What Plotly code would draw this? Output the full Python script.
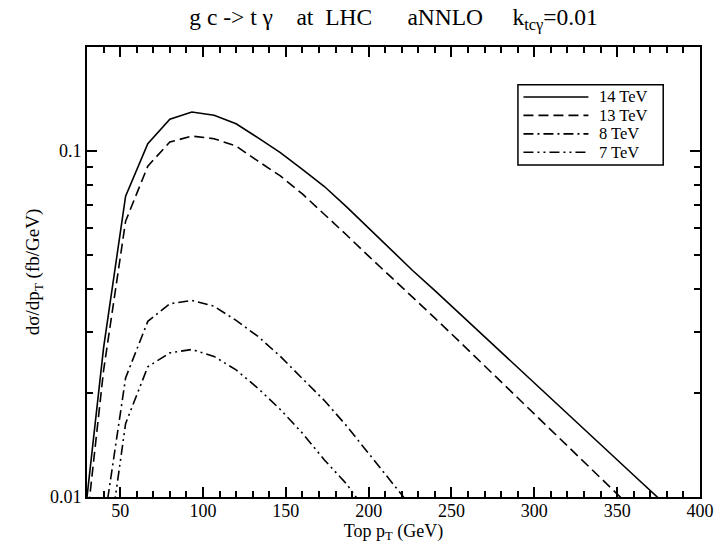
import plotly.graph_objects as go

# Top-quark transverse momentum grid (GeV)
pt = [30, 40, 53.3, 66.7, 80, 93.3, 106.7, 120, 133.3, 146.7, 160, 173.3,
      186.7, 200, 213.3, 226.7, 240, 253.3, 266.7, 280, 293.3, 306.7, 320,
      333.3, 346.7, 360, 373.3, 386.7]

# d(sigma)/dpT in fb/GeV for each collider energy
xs_14tev = [0.0100, 0.0270, 0.0741, 0.1050, 0.1236, 0.1297, 0.1269, 0.1200,
            0.1092, 0.0990, 0.0886, 0.0790, 0.0690, 0.0600, 0.0520, 0.0451,
            0.0395, 0.0345, 0.0301, 0.0262, 0.0229, 0.0200, 0.0174, 0.0152,
            0.01325, 0.01156, 0.01009, 0.0088]
xs_13tev = [0.0085, 0.0232, 0.0627, 0.0905, 0.1062, 0.1105, 0.1086, 0.1034,
            0.0935, 0.0848, 0.0752, 0.0658, 0.0572, 0.0497, 0.0434, 0.0379,
            0.0329, 0.0286, 0.0248, 0.0215, 0.0187, 0.0162, 0.01403, 0.01219,
            0.01057, 0.00917, 0.0080, 0.0069]
xs_8tev = [0.0030, 0.0082, 0.0221, 0.0322, 0.0362, 0.0370, 0.0356, 0.0324,
           0.0291, 0.0255, 0.0220, 0.0190, 0.01605, 0.01341, 0.0112, 0.0093,
           0.0077]
xs_7tev = [0.0020, 0.0057, 0.0163, 0.0238, 0.0261, 0.0267, 0.0255, 0.0233,
           0.0206, 0.0179, 0.0153, 0.0128, 0.0109, 0.0089]

labels = ["14 TeV", "13 TeV", "8 TeV", "7 TeV"]
curves = [xs_14tev, xs_13tev, xs_8tev, xs_7tev]
dashes = ["solid", "10px,5px", "10px,4px,2px,4px", "10px,4px,2px,4px,2px,4px"]

y_major = [0.01, 0.1]
y_major_text = ["0.01", "0.1"]

FONT = "Liberation Serif"
LINE_W = 1.6

fig = go.Figure()
for name, ys, dash in zip(labels, curves, dashes):
    fig.add_trace(go.Scatter(
        x=pt[:len(ys)], y=ys, mode="lines", name=name, showlegend=False,
        line=dict(color="black", width=LINE_W, dash=dash),
    ))

# Framed key in the upper right: box, line samples and labels (paper coords)
key_left, key_right, key_top, key_bottom = 0.703, 0.940, 0.916, 0.738
sample_x0, sample_x1, text_x = 0.712, 0.818, 0.833
row_y = [0.889, 0.848, 0.807, 0.766]
shapes = [dict(type="rect", xref="paper", yref="paper",
               x0=key_left, x1=key_right, y0=key_bottom, y1=key_top,
               line=dict(color="black", width=1.5), fillcolor="white",
               layer="above")]
annotations = []
for name, dash, ry in zip(labels, dashes, row_y):
    shapes.append(dict(type="line", xref="paper", yref="paper",
                       x0=sample_x0, x1=sample_x1, y0=ry, y1=ry,
                       line=dict(color="black", width=LINE_W, dash=dash),
                       layer="above"))
    annotations.append(dict(xref="paper", yref="paper", x=text_x, y=ry,
                            xanchor="left", yanchor="middle", showarrow=False,
                            borderpad=0,
                            text=name, font=dict(family=FONT, size=16.5,
                                                 color="black")))

fig.update_layout(
    width=727, height=545,
    margin=dict(l=87, r=27, t=47, b=48, autoexpand=False),
    paper_bgcolor="white", plot_bgcolor="white",
    font=dict(family=FONT, size=18, color="black"),
    title=dict(
        text="g c -> t \u03b3\u00a0\u00a0\u00a0\u00a0at\u00a0\u00a0LHC\u00a0\u00a0\u00a0\u00a0\u00a0\u00a0aNNLO"
             "\u00a0\u00a0\u00a0\u00a0\u00a0k<sub>tc\u03b3</sub>=0.01",
        x=0.5, xref="paper", xanchor="center",
        y=1 - 17 / 545, yref="container", yanchor="middle",
        font=dict(family=FONT, size=23.5, color="black"),
    ),
    showlegend=False,
    shapes=shapes,
    annotations=annotations,
)

fig.update_xaxes(
    range=[30, 400], automargin=False,
    showgrid=False, zeroline=False,
    showline=True, linecolor="black", linewidth=2, mirror="allticks",
    ticks="inside", ticklen=10, tickwidth=1.6, tickcolor="black",
    tick0=0, dtick=50, ticklabelstandoff=-4,
    minor=dict(ticks="inside", ticklen=6, tickwidth=1.6, tickcolor="black",
               tick0=0, dtick=10, showgrid=False),
    tickfont=dict(family=FONT, size=18),
    title=dict(text="Top p<sub>T</sub> (GeV)", standoff=3,
               font=dict(family=FONT, size=18)),
)

fig.update_yaxes(
    type="log", range=[-2, -0.699], automargin=False,
    showgrid=False, zeroline=False,
    showline=True, linecolor="black", linewidth=2, mirror="allticks",
    ticks="inside", ticklen=10, tickwidth=1.6, tickcolor="black",
    tickmode="array", tickvals=y_major, ticktext=y_major_text,
    minor=dict(ticks="inside", ticklen=6, tickwidth=1.6, tickcolor="black",
               dtick="D1", showgrid=False),
    tickfont=dict(family=FONT, size=18),
    title=dict(text="d\u03c3/dp<sub>T</sub> (fb/GeV)", standoff=5,
               font=dict(family=FONT, size=19)),
)

fig.write_html("out.html")
